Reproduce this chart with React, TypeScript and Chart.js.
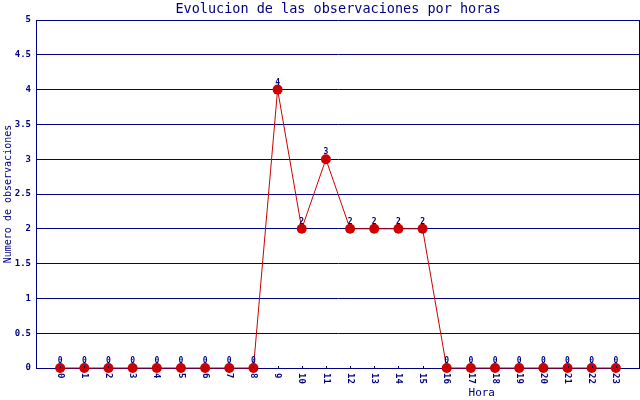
import React, { useEffect, useRef } from "react";
import { Chart, registerables } from "chart.js";

Chart.register(...registerables);

const hours: number[] = [0, 1, 2, 3, 4, 5, 6, 7, 8, 9, 10, 11, 12, 13, 14, 15, 16, 17, 18, 19, 20, 21, 22, 23];
const counts: number[] = [0, 0, 0, 0, 0, 0, 0, 0, 0, 4, 2, 3, 2, 2, 2, 2, 0, 0, 0, 0, 0, 0, 0, 0];
const yTicks: number[] = [0, 0.5, 1, 1.5, 2, 2.5, 3, 3.5, 4, 4.5, 5];
const titleText = "Evolucion de las observaciones por horas";
const yTitle = "Numero de observaciones";
const xTitle = "Hora";

const NAVY = "#000080";
const RED = "#CC0000";
const FONT = "'DejaVu Sans Mono', 'Liberation Mono', monospace";

const decorPlugin = {
  id: "decor",
  afterDraw(chart: any) {
    const ctx = chart.ctx;
    const area = chart.chartArea;
    const xs = chart.scales.x;
    ctx.save();
    // right border
    ctx.strokeStyle = NAVY;
    ctx.lineWidth = 1;
    ctx.beginPath();
    ctx.moveTo(Math.round(area.right) - 0.5, area.top);
    ctx.lineTo(Math.round(area.right) - 0.5, area.bottom);
    ctx.stroke();
    // small tick marks above axis
    hours.forEach((h) => {
      const px = Math.round(xs.getPixelForValue(h)) + 0.5;
      ctx.beginPath();
      ctx.moveTo(px, area.bottom - 2);
      ctx.lineTo(px, area.bottom);
      ctx.stroke();
    });
    // title
    ctx.fillStyle = NAVY;
    ctx.font = `13.5px ${FONT}`;
    ctx.textAlign = "center";
    ctx.textBaseline = "middle";
    ctx.fillText(titleText, (area.left + area.right) / 2, 9);
    // x tick labels rotated clockwise
    ctx.font = `bold 9px ${FONT}`;
    hours.forEach((h) => {
      const px = xs.getPixelForValue(h);
      ctx.save();
      ctx.translate(px, area.bottom + 5);
      ctx.rotate(Math.PI / 2);
      ctx.textAlign = "left";
      ctx.textBaseline = "middle";
      ctx.fillText(String(h), 0, 0);
      ctx.restore();
    });
    // x title
    ctx.font = `11px ${FONT}`;
    ctx.textAlign = "center";
    ctx.textBaseline = "middle";
    ctx.fillText(xTitle, area.left + (area.right - area.left) * 0.738, 393);
    // data labels
    const meta = chart.getDatasetMeta(0);
    ctx.font = `bold 8px ${FONT}`;
    ctx.textBaseline = "alphabetic";
    meta.data.forEach((pt: any, i: number) => {
      ctx.fillText(String(counts[i]), pt.x, pt.y - 5);
    });
    ctx.restore();
  },
};

export default function App() {
  const ref = useRef<HTMLCanvasElement | null>(null);
  useEffect(() => {
    if (!ref.current) return;
    const chart = new Chart(ref.current, {
      type: "line",
      data: {
        datasets: [
          {
            data: hours.map((h, i) => ({ x: h, y: counts[i] })),
            borderColor: RED,
            backgroundColor: RED,
            borderWidth: 1,
            pointRadius: 5,
            pointBackgroundColor: RED,
            pointBorderColor: RED,
            pointBorderWidth: 0,
            tension: 0,
            clip: false,
          } as any,
        ],
      },
      options: {
        animation: false,
        responsive: false,
        devicePixelRatio: 1,
        layout: { autoPadding: false, padding: { top: 20, right: 0, left: 0, bottom: 0 } },
        plugins: {
          legend: { display: false },
          title: { display: false },
          tooltip: { enabled: false },
        },
        scales: {
          x: {
            type: "linear",
            min: -1,
            max: 24,
            grid: { display: false },
            border: { display: true, color: NAVY, width: 1 },
            ticks: { display: false },
            afterBuildTicks: (s: any) => {
              s.ticks = hours.map((v) => ({ value: v }));
            },
            afterFit: (s: any) => {
              s.height = 32;
            },
          },
          y: {
            type: "linear",
            min: 0,
            max: 5,
            grid: { color: NAVY, lineWidth: 1, drawTicks: false },
            border: { display: true, color: NAVY, width: 1 },
            afterBuildTicks: (s: any) => {
              s.ticks = yTicks.map((v) => ({ value: v }));
            },
            ticks: {
              color: NAVY,
              padding: 5,
              font: { family: FONT, size: 9, weight: "bold" },
              callback: (v: any) => String(Number(v)),
            },
            title: {
              display: true,
              text: yTitle,
              color: NAVY,
              font: { family: FONT, size: 10 },
              padding: { top: 2, bottom: 0 },
            },
            afterFit: (s: any) => {
              s.width = 36;
            },
          },
        },
      },
      plugins: [decorPlugin],
    });
    return () => chart.destroy();
  }, []);
  return (
    <div style={{ position: "fixed", left: 0, top: 0, width: 640, height: 400, background: "#fff" }}>
      <canvas ref={ref} width={640} height={400} />
    </div>
  );
}
